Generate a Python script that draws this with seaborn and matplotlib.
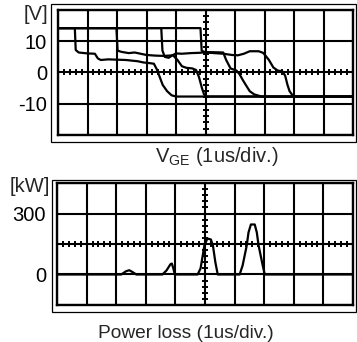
import numpy as np
import pandas as pd
import matplotlib
matplotlib.use("Agg")
import matplotlib.pyplot as plt
import seaborn as sns
from matplotlib.patches import Rectangle

# =============================================================================
# Data (time in divisions, 1us/div)
# =============================================================================
# gate voltage traces [V]
t1 = [0, 0.57, 0.6, 0.7, 1.0, 1.25, 1.35, 1.45, 1.7, 2.0, 2.3, 2.5, 2.7, 2.9, 3.1,
      3.25, 3.35, 3.45, 3.55, 3.7, 3.85, 4.0, 10]
v1 = [14.2, 14.2, 7.2, 6.4, 6.1, 6.0, 4.5, 4.0, 4.2, 4.1, 4.0, 3.8, 3.6, 3.2, 3.0,
      2.8, 1.0, -1.5, -4.0, -6.0, -7.3, -7.7, -7.7]

t2 = [0, 1.98, 2.02, 2.15, 2.4, 2.6, 2.8, 3.0, 3.3, 3.6, 3.9, 4.05, 4.2, 4.35, 4.55,
      4.68, 4.78, 4.88, 4.95, 5.05, 10]
v2 = [14.2, 14.2, 7.0, 6.6, 6.2, 6.4, 6.0, 5.6, 5.4, 5.3, 5.5, 4.0, 2.0, 1.5, 1.3,
      0.8, -1.5, -5.0, -7.0, -7.7, -7.7]

t3 = [0, 3.5, 3.54, 3.62, 3.75, 3.88, 4.0, 4.2, 4.5, 4.8, 5.0, 5.2, 5.6, 5.7, 5.85,
      6.05, 6.15, 6.27, 6.4, 6.5, 6.65, 6.9, 10]
v3 = [14.2, 14.2, 7.0, 5.0, 4.7, 5.5, 6.1, 6.0, 6.2, 6.3, 6.5, 6.5, 6.4, 4.0, 1.3,
      0.6, -0.5, -2.5, -4.5, -6.0, -7.0, -7.7, -7.7]

t4 = [0, 4.83, 4.87, 5.0, 5.3, 5.6, 5.9, 6.1, 6.3, 6.5, 6.8, 6.95, 7.05, 7.15, 7.3,
      7.45, 7.6, 7.7, 7.78, 7.85, 7.95, 8.05, 10]
v4 = [14.2, 14.2, 7.0, 6.4, 6.2, 6.0, 5.6, 5.5, 6.0, 6.8, 6.8, 6.3, 5.2, 4.0, 1.6,
      0.6, 0.4, -1.0, -4.0, -6.0, -7.3, -7.7, -7.7]

# power loss trace [kW]
t_loss = [0, 2.17, 2.33, 2.44, 2.54, 2.68, 3.56, 3.7, 3.83, 3.88, 3.93, 3.98,
          4.75, 4.85, 4.98, 5.08, 5.2, 5.27, 5.35, 5.43,
          6.17, 6.27, 6.41, 6.47, 6.55, 6.68, 6.75, 6.81, 6.95, 7.02, 10]
p_loss = [0, 0, 16, 21, 13, 0, 0, 20, 50, 54, 30, 0,
          0, 30, 143, 177, 172, 140, 60, 0,
          0, 44, 143, 207, 246, 246, 207, 143, 44, 0, 0]

vge_ticks = [-20, -10, 0, 10, 20]
vge_labels = ["", "-10", "0", "10", ""]
loss_ticks = [-150, 0, 150, 300, 450]
loss_labels = ["", "0", "", "300", ""]

# =============================================================================
# Plot
# =============================================================================
sns.set_style("white")
plt.rcParams["font.family"] = ["Liberation Sans", "DejaVu Sans"]
plt.rcParams["mathtext.fontset"] = "custom"
plt.rcParams["mathtext.rm"] = "Liberation Sans"

fig = plt.figure(figsize=(3.57, 3.42), dpi=100)
ax_v = fig.add_axes([0.1625, 0.6053, 0.8263, 0.3655])
ax_p = fig.add_axes([0.1597, 0.1082, 0.8291, 0.3567])


def setup_scope(ax, ylim, ticks, labels):
    ax.set_xlim(0, 10)
    ax.set_ylim(*ylim)
    ax.set_xticks(np.arange(0, 11))
    ax.set_xticklabels([])
    ax.set_yticks(ticks)
    ax.set_yticklabels(labels)
    ax.grid(True, color="black", lw=1.5)
    ax.tick_params(length=0, pad=8, labelsize=14.5, labelcolor="black")
    for s in ax.spines.values():
        s.set_visible(True)
        s.set_color("black")
        s.set_linewidth(1.7)
    ax.set_xlabel("")
    ax.set_ylabel("")
    # graticule minor ticks on the centre lines
    yc = (ylim[0] + ylim[1]) / 2
    ydiv = (ylim[1] - ylim[0]) / 4
    xs = np.arange(0, 10.01, 0.2)
    ax.plot(xs, np.full_like(xs, yc), ls="none", marker="|", ms=5, mew=1.4, color="black")
    ys = np.arange(ylim[0], ylim[1] + 1e-6, ydiv / 5)
    ax.plot(np.full_like(ys, 5.0), ys, ls="none", marker="_", ms=5, mew=1.4, color="black")


vge_df = pd.concat([
    pd.DataFrame({"t": t, "v": v, "trace": name})
    for name, t, v in [("a", t1, v1), ("b", t2, v2), ("c", t3, v3), ("d", t4, v4)]
])
sns.lineplot(data=vge_df, x="t", y="v", units="trace", estimator=None, sort=False,
             color="black", lw=1.6, ax=ax_v)
setup_scope(ax_v, (-20, 20), vge_ticks, vge_labels)

loss_df = pd.DataFrame({"t": t_loss, "p": p_loss})
sns.lineplot(data=loss_df, x="t", y="p", estimator=None, sort=False,
             color="black", lw=1.6, ax=ax_p)
setup_scope(ax_p, (-150, 450), loss_ticks, loss_labels)

# outer frames
fig.patches.append(Rectangle((51 / 357, 1 - 142 / 342), 305 / 357, 138 / 342,
                             transform=fig.transFigure, fill=False, lw=0.9, ec="black"))
fig.patches.append(Rectangle((52 / 357, 1 - 312 / 342), 304 / 357, 132 / 342,
                             transform=fig.transFigure, fill=False, lw=0.9, ec="black"))

fig.text(48 / 357, 1 - 15 / 342, "[V]", ha="right", va="center", fontsize=14.5)
fig.text(50 / 357, 1 - 187 / 342, "[kW]", ha="right", va="center", fontsize=14.5)
fig.text(155 / 357, 1 - 157 / 342, r"V$_\mathrm{GE}$ (1us/div.)", ha="left", va="center", fontsize=14.5)
fig.text(186 / 357, 1 - 333 / 342, "Power loss (1us/div.)", ha="center", va="center", fontsize=13.8)

fig.savefig("out.png", dpi=100)
